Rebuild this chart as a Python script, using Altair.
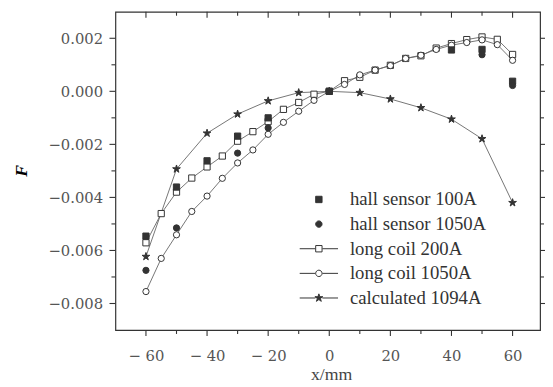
import altair as alt
import pandas as pd

# ---- data ----
series_names = ["hall sensor 100A", "hall sensor 1050A", "long coil 200A",
                "long coil 1050A", "calculated 1094A"]

x_step5 = [-60, -55, -50, -45, -40, -35, -30, -25, -20, -15, -10, -5, 0,
           5, 10, 15, 20, 25, 30, 35, 40, 45, 50, 55, 60]
coil_200A = [-5.71e-3, -4.61e-3, -3.80e-3, -3.27e-3, -2.85e-3, -2.44e-3, -1.88e-3,
             -1.52e-3, -1.14e-3, -0.68e-3, -0.42e-3, -0.11e-3, 0.0,
             0.40e-3, 0.53e-3, 0.80e-3, 0.98e-3, 1.24e-3, 1.34e-3, 1.63e-3,
             1.80e-3, 1.95e-3, 2.05e-3, 1.96e-3, 1.39e-3]
coil_1050A = [-7.55e-3, -6.30e-3, -5.41e-3, -4.53e-3, -3.95e-3, -3.28e-3, -2.70e-3,
              -2.21e-3, -1.62e-3, -1.17e-3, -0.75e-3, -0.34e-3, 0.0,
              0.26e-3, 0.62e-3, 0.80e-3, 0.97e-3, 1.24e-3, 1.36e-3, 1.58e-3,
              1.74e-3, 1.84e-3, 1.94e-3, 1.76e-3, 1.17e-3]

x_step10 = [-60, -50, -40, -30, -20, -10, 0, 10, 20, 30, 40, 50, 60]
calc_1094A = [-6.23e-3, -2.93e-3, -1.58e-3, -0.86e-3, -0.36e-3, -0.05e-3, 0.0,
              -0.05e-3, -0.29e-3, -0.62e-3, -1.05e-3, -1.79e-3, -4.20e-3]

hall_100A_x = [-60, -50, -40, -30, -20, 0, 40, 50, 60]
hall_100A = [-5.46e-3, -3.61e-3, -2.62e-3, -1.69e-3, -1.00e-3, 0.0, 1.56e-3, 1.58e-3, 0.38e-3]

hall_1050A_x = [-60, -50, -30, -20, 0, 50, 60]
hall_1050A = [-6.75e-3, -5.15e-3, -2.33e-3, -1.38e-3, 0.0, 1.38e-3, 0.22e-3]

x_major = [-60, -40, -20, 0, 20, 40, 60]
x_minor = [-50, -30, -10, 10, 30, 50]
y_major = [-0.008, -0.006, -0.004, -0.002, 0.0, 0.002]
y_minor = [-0.007, -0.005, -0.003, -0.001, 0.001]

# ---- tables ----
def frame(xs, ys, name):
    return pd.DataFrame({"x": xs, "F": ys, "series": name})

df_lines = pd.concat([
    frame(x_step5, coil_200A, "long coil 200A"),
    frame(x_step5, coil_1050A, "long coil 1050A"),
    frame(x_step10, calc_1094A, "calculated 1094A"),
], ignore_index=True)

df_all = pd.concat([
    df_lines,
    frame(hall_100A_x, hall_100A, "hall sensor 100A"),
    frame(hall_1050A_x, hall_1050A, "hall sensor 1050A"),
], ignore_index=True)
df_all["idx"] = range(len(df_all))

# ---- styling ----
STAR = "M0,-1.3L0.29,-0.4L1.24,-0.4L0.47,0.15L0.76,1.05L0,0.5L-0.76,1.05L-0.47,0.15L-1.24,-0.4L-0.29,-0.4Z"
SQ = "M-1,-1H1V1H-1Z"
CIRC = "M1,0A1,1,0,1,1,-1,0A1,1,0,1,1,1,0Z"
LN = "M-6,0H-1.1M1.1,0H6"
VBAR = "M0,-1V1"
HBAR = "M-1,0H1"
fill_range = ["#333", "#333", "white", "white", "#333"]
INK = "#333"
W, H = 431, 323

xscale = alt.Scale(domain=[-70, 69], nice=False, zero=False)
yscale = alt.Scale(domain=[-0.009, 0.003], nice=False, zero=False)

lines = alt.Chart(df_lines).mark_line(color="#666", strokeWidth=0.9).encode(
    x=alt.X("x:Q", scale=xscale, axis=None),
    y=alt.Y("F:Q", scale=yscale, axis=None),
    detail="series:N",
    order="x:Q",
)

points = alt.Chart(df_all).mark_point(
    filled=True, opacity=1, stroke=INK, strokeWidth=1, size=40
).encode(
    x=alt.X("x:Q", scale=xscale, axis=alt.Axis(
        orient="bottom", values=x_major, ticks=False,
        labelExpr="replace(datum.label, '\u2212', '\u2212 ')",
        labelFont="DejaVu Serif", labelFontSize=15, labelColor="#555",
        labelPadding=19, title="x/mm", titleFont="Liberation Serif", titleFontSize=18,
        titleFontWeight="normal", titleColor="#444", titleX=219, titleY=50,
        titleBaseline="alphabetic")),
    y=alt.Y("F:Q", scale=yscale, axis=alt.Axis(
        orient="left", values=y_major, format=".3f", ticks=False,
        labelFont="DejaVu Serif", labelFontSize=15, labelColor="#555",
        labelPadding=13, title="F", titleFont="Liberation Serif", titleFontSize=18,
        titleFontWeight="bold", titleFontStyle="italic", titleColor="#000",
        titleAngle=270, titleX=-95, titleY=161, titleAlign="center",
        titleBaseline="middle")),
    shape=alt.Shape("series:N", scale=alt.Scale(
        domain=series_names, range=[SQ, "circle", SQ, "circle", STAR]), legend=None),
    fill=alt.Fill("series:N", scale=alt.Scale(
        domain=series_names, range=fill_range), legend=None),
    order=alt.Order("idx:Q"),
)

legend = alt.Legend(
    title=None, orient="none", legendX=197, legendY=181,
    labelFont="Liberation Serif", labelFontSize=19, labelColor="#333",
    symbolSize=42, symbolStrokeColor=INK, symbolStrokeWidth=1,
    symbolOpacity=1, labelOffset=22, rowPadding=5,
)

legend_layer = alt.Chart(df_all).transform_filter("false").mark_point(
    filled=False, opacity=1, strokeWidth=1, size=42
).encode(
    x=alt.X("x:Q", scale=xscale, axis=None),
    y=alt.Y("F:Q", scale=yscale, axis=None),
    shape=alt.Shape("series:N", scale=alt.Scale(
        domain=series_names, range=[SQ, CIRC, LN + SQ, LN + CIRC, LN + STAR]), legend=legend),
    fill=alt.Fill("series:N", scale=alt.Scale(
        domain=series_names, range=fill_range), legend=legend),
    stroke=alt.Stroke("series:N", scale=alt.Scale(
        domain=series_names, range=[INK] * 5), legend=legend),
)


# tick marks on all four sides, drawn as bar-shaped symbols at the tick values
def xticks(vals, center, length):
    return alt.Chart(pd.DataFrame({"t": vals})).mark_point(
        shape=VBAR, size=length * length, filled=False, color=INK,
        strokeWidth=1.1, opacity=1).encode(
        x=alt.X("t:Q", scale=xscale, axis=None), y=alt.value(center))


def yticks(vals, center, length):
    return alt.Chart(pd.DataFrame({"t": vals})).mark_point(
        shape=HBAR, size=length * length, filled=False, color=INK,
        strokeWidth=1.1, opacity=1).encode(
        y=alt.Y("t:Q", scale=yscale, axis=None), x=alt.value(center))


tick_layers = [
    xticks(x_major, H + 3, 6), xticks(x_minor, H + 2, 4),   # bottom, outward
    xticks(x_major, 3, 6), xticks(x_minor, 2, 4),           # top, inward
    yticks(y_major, -3, 6), yticks(y_minor, -2, 4),         # left, outward
    yticks(y_major, W + 3, 6), yticks(y_minor, W + 2, 4),   # right, outward
]

chart = alt.layer(lines, *tick_layers, points, legend_layer).resolve_axis(
    x="independent", y="independent"
).resolve_scale(
    shape="independent", fill="independent", stroke="independent"
).properties(
    width=W, height=H,
    padding={"left": 109, "top": 1, "right": 5, "bottom": 54},
    autosize=alt.AutoSizeParams(type="none"),
    background="white",
).configure_view(stroke=INK, strokeWidth=1.2).configure_axis(grid=False, domain=False)

chart.save("out.html", embed_options={"renderer": "svg", "actions": False})
